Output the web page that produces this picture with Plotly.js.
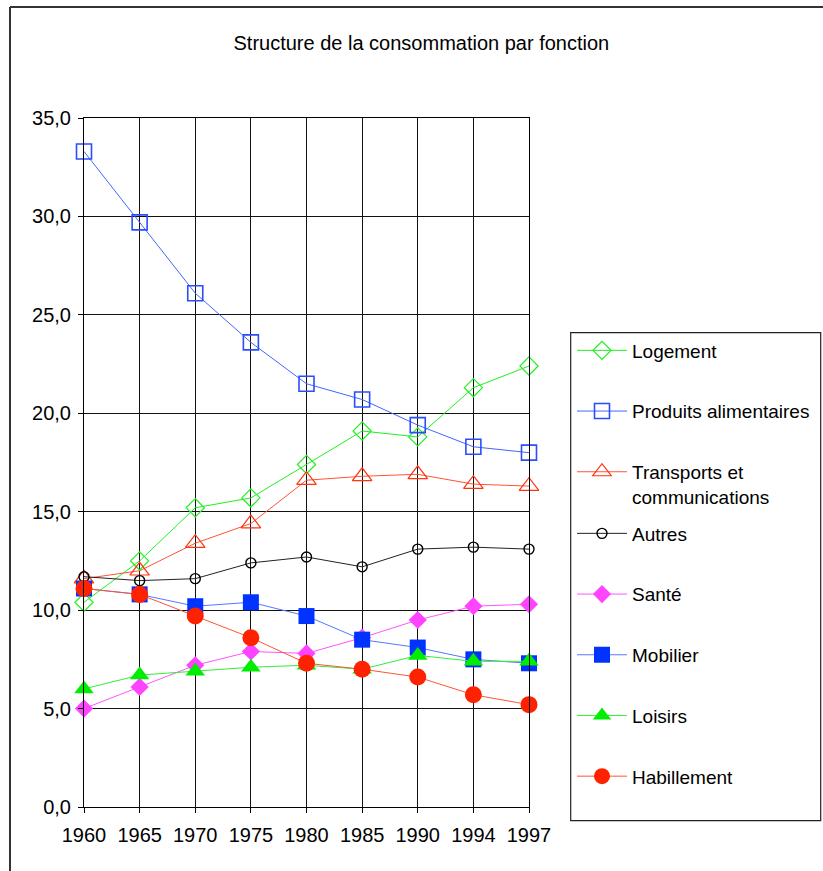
<!DOCTYPE html>
<html>
<head>
<meta charset="utf-8">
<script src="https://cdn.plot.ly/plotly-3.0.1.min.js"></script>
<style>
html,body{margin:0;padding:0;background:#fff;}
#chart{width:823px;height:871px;}
</style>
</head>
<body>
<div id="chart"></div>
<script>
const years = ['1960','1965','1970','1975','1980','1985','1990','1994','1997'];
const logement    = [10.4, 12.5, 15.2, 15.7, 17.4, 19.1, 18.8, 21.3, 22.4];
const produits    = [33.3, 29.7, 26.1, 23.6, 21.5, 20.7, 19.4, 18.3, 18.0];
const transports  = [11.6, 12.0, 13.4, 14.4, 16.6, 16.8, 16.9, 16.4, 16.3];
const autres      = [11.7, 11.5, 11.6, 12.4, 12.7, 12.2, 13.1, 13.2, 13.1];
const sante       = [5.0, 6.1, 7.2, 7.9, 7.8, 8.6, 9.5, 10.2, 10.3];
const mobilier    = [11.1, 10.8, 10.2, 10.4, 9.7, 8.5, 8.1, 7.5, 7.3];
const loisirs     = [6.0, 6.7, 6.9, 7.1, 7.2, 7.0, 7.7, 7.4, 7.4];
const habillement = [11.1, 10.8, 9.7, 8.6, 7.3, 7.0, 6.6, 5.7, 5.2];

const names = ['Logement','Produits alimentaires','Transports et<br>communications','Autres','Santé','Mobilier','Loisirs','Habillement'];
const series = [logement, produits, transports, autres, sante, mobilier, loisirs, habillement];
const styles = [
  {lc:'#22ee22', sym:'diamond-open', size:14, mc:'#22ee22', mw:1.2},
  {lc:'#4466ff', sym:'square-open', size:15, mc:'#2a4dff', mw:1.6},
  {lc:'#ff5533', sym:'triangle-up-open', size:17, mc:'#ff3311', mw:1.2},
  {lc:'#222222', sym:'circle-open', size:10, mc:'#000000', mw:1.4},
  {lc:'#ff55ff', sym:'diamond', size:14, mc:'#ff44ff', mw:0},
  {lc:'#5577ff', sym:'square', size:16, mc:'#0033ff', mw:0},
  {lc:'#33ee33', sym:'triangle-up', size:17, mc:'#00ee00', mw:0},
  {lc:'#ff5533', sym:'circle', size:17, mc:'#ff2200', mw:0}
];

const traces = series.map((s, i) => ({
  type:'scatter', mode:'lines+markers',
  x: years, y: s, name: names[i],
  legend: i < 3 ? 'legend' : 'legend2',
  legendgroup: 'g' + i,
  line:{color: styles[i].lc, width:1},
  marker:{symbol: styles[i].sym, size: styles[i].size, color: styles[i].mc,
          line:{color: styles[i].mc, width: styles[i].mw}},
  cliponaxis:false
}));

const FONT = 'Liberation Sans, Arial, sans-serif';
const legendCommon = {
  xref:'container', yref:'container', xanchor:'left', yanchor:'top',
  bgcolor:'rgba(0,0,0,0)', borderwidth:0,
  font:{family:FONT, size:19, color:'#000'},
  traceorder:'grouped', tracegroupgap:33, itemwidth:50, valign:'top',
  itemclick:false, itemdoubleclick:false
};

const layout = {
  width:823, height:871,
  margin:{l:84, r:294, t:118, b:64},
  paper_bgcolor:'#fff', plot_bgcolor:'#fff',
  separators:', ',
  font:{family:FONT, size:20, color:'#000'},
  title:{text:'Structure de la consommation par fonction', font:{family:FONT, size:20, color:'#000'},
         xref:'container', yref:'container', x:0.512, y:1-43/871, xanchor:'center', yanchor:'middle'},
  xaxis:{type:'category', range:[0, 8], showgrid:true, gridcolor:'#111', gridwidth:1,
         showline:true, linecolor:'#000', linewidth:1, mirror:true,
         ticks:'outside', ticklen:5, tickcolor:'#000', ticklabelstandoff:5,
         tickfont:{family:FONT, size:20, color:'#000'},
         fixedrange:true, zeroline:false},
  yaxis:{range:[0, 35], dtick:5, tick0:0, tickformat:'.1f', showgrid:true, gridcolor:'#111', gridwidth:1,
         showline:true, linecolor:'#000', linewidth:1, mirror:true,
         ticks:'outside', ticklen:5, tickcolor:'#000', ticklabelstandoff:3,
         tickfont:{family:FONT, size:20, color:'#000'},
         fixedrange:true, zeroline:false},
  showlegend:true,
  legend: Object.assign({}, legendCommon, {x:572/823, y:1-331.5/871}),
  legend2: Object.assign({}, legendCommon, {x:572/823, y:1-514.5/871}),
  shapes:[
    {type:'rect', xref:'paper', yref:'paper', x0:(570.7-84)/445, x1:(820.7-84)/445,
     y0:(807-820.7)/689, y1:(807-332.7)/689, line:{color:'#222', width:1.2}, fillcolor:'rgba(0,0,0,0)', layer:'below'},
    {type:'line', xref:'paper', yref:'paper', x0:(10-84)/445, x1:(10-84)/445,
     y0:(807-7)/689, y1:(807-880)/689, line:{color:'#333', width:2}},
    {type:'line', xref:'paper', yref:'paper', x0:(10-84)/445, x1:(830-84)/445,
     y0:(807-7)/689, y1:(807-7)/689, line:{color:'#333', width:2}}
  ]
};

Plotly.newPlot('chart', traces, layout, {displayModeBar:false, staticPlot:true});
</script>
</body>
</html>
